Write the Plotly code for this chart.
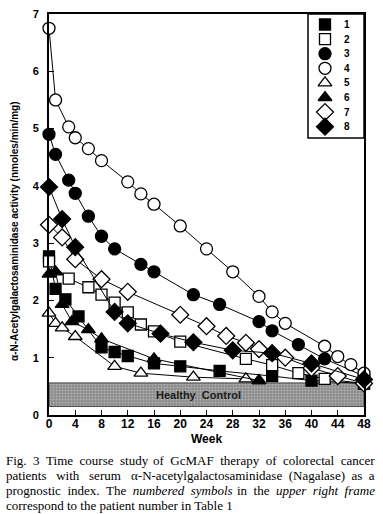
import plotly.graph_objects as go

# ---------------- data ----------------
weeks_1 = [0, 1, 2.5, 4.5, 8, 10, 12, 16, 20, 26, 34, 40, 48]
vals_1 = [2.77, 2.2, 2.02, 1.72, 1.18, 1.1, 1.03, 0.9, 0.85, 0.77, 0.68, 0.6, 0.55]

weeks_2 = [0, 3, 6, 8, 10, 12, 14, 16, 20, 30, 34, 38, 42, 48]
vals_2 = [2.68, 2.38, 2.23, 2.1, 1.96, 1.79, 1.58, 1.46, 1.28, 0.98, 0.87, 0.73, 0.63, 0.55]

weeks_3 = [0, 1, 3, 4, 6, 8, 10, 14, 16, 22, 26, 32, 34, 38, 42, 48]
vals_3 = [4.9, 4.55, 4.1, 3.87, 3.47, 3.12, 2.9, 2.63, 2.5, 2.1, 1.93, 1.63, 1.47, 1.23, 0.98, 0.68]

weeks_4 = [0, 1, 3, 4, 6, 8, 12, 14, 16, 20, 24, 28, 32, 34, 36, 42, 44, 46, 48]
vals_4 = [6.75, 5.5, 5.03, 4.84, 4.65, 4.44, 4.07, 3.86, 3.68, 3.3, 2.9, 2.5, 2.07, 1.8, 1.6, 1.2, 1.02, 0.88, 0.73]

weeks_5 = [0, 1, 2, 4, 10, 14, 22, 30, 32]
vals_5 = [1.78, 1.6, 1.52, 1.37, 0.85, 0.73, 0.66, 0.63, 0.6]

weeks_6 = [0, 1, 2, 3.5, 6, 8, 16, 32]
vals_6 = [2.46, 2.5, 1.93, 1.63, 1.49, 1.33, 0.98, 0.6]

weeks_7 = [0, 2, 4, 8, 12, 20, 24, 27, 30, 32, 36, 40, 44, 48]
vals_7 = [3.32, 3.1, 2.72, 2.37, 2.15, 1.75, 1.55, 1.38, 1.26, 1.15, 1.0, 0.82, 0.68, 0.55]

weeks_8 = [0, 2, 4, 10, 12, 17, 22, 28, 34, 40, 48]
vals_8 = [3.98, 3.42, 2.93, 1.8, 1.6, 1.42, 1.27, 1.13, 1.08, 0.9, 0.62]

patients = ["1", "2", "3", "4", "5", "6", "7", "8"]
control_low, control_high = 0.15, 0.56
control_label = "Healthy  Control"

x_ticks = [0, 4, 8, 12, 16, 20, 24, 28, 32, 36, 40, 44, 48]
y_ticks = [0, 1, 2, 3, 4, 5, 6, 7]

caption_lines = [
    "Fig. 3 Time course study of GcMAF therapy of colorectal cancer",
    "patients with serum \u03b1-N-acetylgalactosaminidase (Nagalase) as a",
    "prognostic index. The <i>numbered symbols</i> in the <i>upper right frame</i>",
    "correspond to the patient number in Table 1",
]

# ---------------- styles ----------------
series = [
    (weeks_1, vals_1, "square", "black"),
    (weeks_2, vals_2, "square", "white"),
    (weeks_3, vals_3, "circle", "black"),
    (weeks_4, vals_4, "circle", "white"),
    (weeks_5, vals_5, "triangle-up", "white"),
    (weeks_6, vals_6, "triangle-up", "black"),
    (weeks_7, vals_7, "diamond", "white"),
    (weeks_8, vals_8, "diamond", "black"),
]
sizes = {"square": 11, "circle": 12, "triangle-up": 12, "diamond": 13}

W, H = 383, 514
L, R, T, B = 49, 364, 14, 415  # plot area in pixels

fig = go.Figure()

# healthy control band
fig.add_trace(go.Bar(
    x=[24], y=[control_high - control_low], base=[control_low], width=[48],
    marker=dict(color="#8a8a8a", line=dict(color="#444", width=1),
                pattern=dict(shape=".", fgcolor="#d8d8d8", bgcolor="#8a8a8a", size=3, solidity=0.35)),
    showlegend=False, hoverinfo="skip",
))

for wk, vl, sym, col in series:
    fig.add_trace(go.Scatter(
        x=wk, y=vl, mode="lines+markers",
        line=dict(color="black", width=1),
        marker=dict(symbol=sym, size=sizes[sym], color=col, line=dict(color="black", width=1.3)),
        showlegend=False, cliponaxis=False,
    ))

# manual legend on a pixel-scaled overlay axis
leg_x_sym, leg_x_txt = 325, 347
leg_y0, leg_dy = 24.5, 14.6
for i, (wk, vl, sym, col) in enumerate(series):
    fig.add_trace(go.Scatter(
        x=[leg_x_sym], y=[leg_y0 + i * leg_dy], xaxis="x2", yaxis="y2", mode="markers",
        marker=dict(symbol=sym, size=sizes[sym], color=col, line=dict(color="black", width=1.3)),
        showlegend=False, hoverinfo="skip",
    ))
    fig.add_annotation(x=leg_x_txt, y=leg_y0 + i * leg_dy, xref="x2", yref="y2", text="<b>%s</b>" % patients[i],
                       showarrow=False, font=dict(size=10, color="black", family="Liberation Sans"))

fig.add_shape(type="rect", xref="x2", yref="y2", x0=308, x1=364, y0=14, y1=138,
              line=dict(color="black", width=1.5), fillcolor="rgba(0,0,0,0)")

fig.add_annotation(x=22.8, y=(control_low + control_high) / 2, xref="x", yref="y",
                   text="<b>%s</b>" % control_label, showarrow=False,
                   font=dict(size=11, color="#1a1a1a", family="Liberation Sans"))

def px_to_paper_x(px):
    return (px - L) / (R - L)

def px_to_paper_y(py):
    return (B - py) / (B - T)

# axis titles
fig.add_annotation(x=px_to_paper_x(15), y=px_to_paper_y(231), xref="paper", yref="paper",
                   xanchor="center", yanchor="middle",
                   text="<b>\u03b1-N-Acetylgalactosaminidase activity (nmoles/min/mg)</b>",
                   textangle=-90, showarrow=False, font=dict(size=10, color="black", family="Liberation Sans"))
fig.add_annotation(x=px_to_paper_x(206), y=px_to_paper_y(439), xref="paper", yref="paper",
                   xanchor="center", yanchor="middle",
                   text="<b>Week</b>", showarrow=False, font=dict(size=12, color="black", family="Liberation Sans"))

# caption: justified lines made of a left half and a right half
def widen(text, k):
    parts = text.split(" ")
    return (" " + "\u00a0" * k).join(parts)

half_spacing = [(1, 1), (2, 1), (1, 1)]
cap_font = dict(size=13, color="black", family="Liberation Serif")
for i, line in enumerate(caption_lines):
    ypos = px_to_paper_y(460 + 15 * i)
    words = line.split(" ")
    if i < len(caption_lines) - 1:
        mid = len(words) // 2
        kl, kr = half_spacing[i]
        fig.add_annotation(x=px_to_paper_x(4), y=ypos, xref="paper", yref="paper",
                           xanchor="left", yanchor="middle", text=widen(" ".join(words[:mid]), kl),
                           showarrow=False, font=cap_font)
        fig.add_annotation(x=px_to_paper_x(377), y=ypos, xref="paper", yref="paper",
                           xanchor="right", yanchor="middle", text=widen(" ".join(words[mid:]), kr),
                           showarrow=False, font=cap_font)
    else:
        fig.add_annotation(x=px_to_paper_x(4), y=ypos, xref="paper", yref="paper",
                           xanchor="left", yanchor="middle", text=line,
                           showarrow=False, font=cap_font)

fig.update_layout(
    width=W, height=H,
    margin=dict(l=L, r=W - R, t=T, b=H - B, pad=0),
    plot_bgcolor="white", paper_bgcolor="white",
    showlegend=False,
    xaxis=dict(range=[0, 48], tickvals=x_ticks, ticktext=["<b>%d</b>" % t for t in x_ticks],
               ticks="inside", ticklen=5, tickcolor="black", showline=True, linecolor="black",
               linewidth=2, mirror=True, showgrid=False, zeroline=False, automargin=False,
               ticklabelstandoff=-3,
               tickfont=dict(size=12, color="black", family="Liberation Sans")),
    yaxis=dict(range=[0, 7], tickvals=y_ticks, ticktext=["<b>%d</b>" % t for t in y_ticks],
               ticks="inside", ticklen=5, tickcolor="black", showline=True, linecolor="black",
               linewidth=2, mirror=True, showgrid=False, zeroline=False, automargin=False,
               ticklabelstandoff=6,
               tickfont=dict(size=11, color="black", family="Liberation Sans")),
    xaxis2=dict(range=[L, R], overlaying="x", visible=False, domain=[0, 1]),
    yaxis2=dict(range=[B, T], overlaying="y", visible=False),
)

fig.write_html("out.html", config={"displayModeBar": False},
               post_script="document.body.style.margin='0';")
